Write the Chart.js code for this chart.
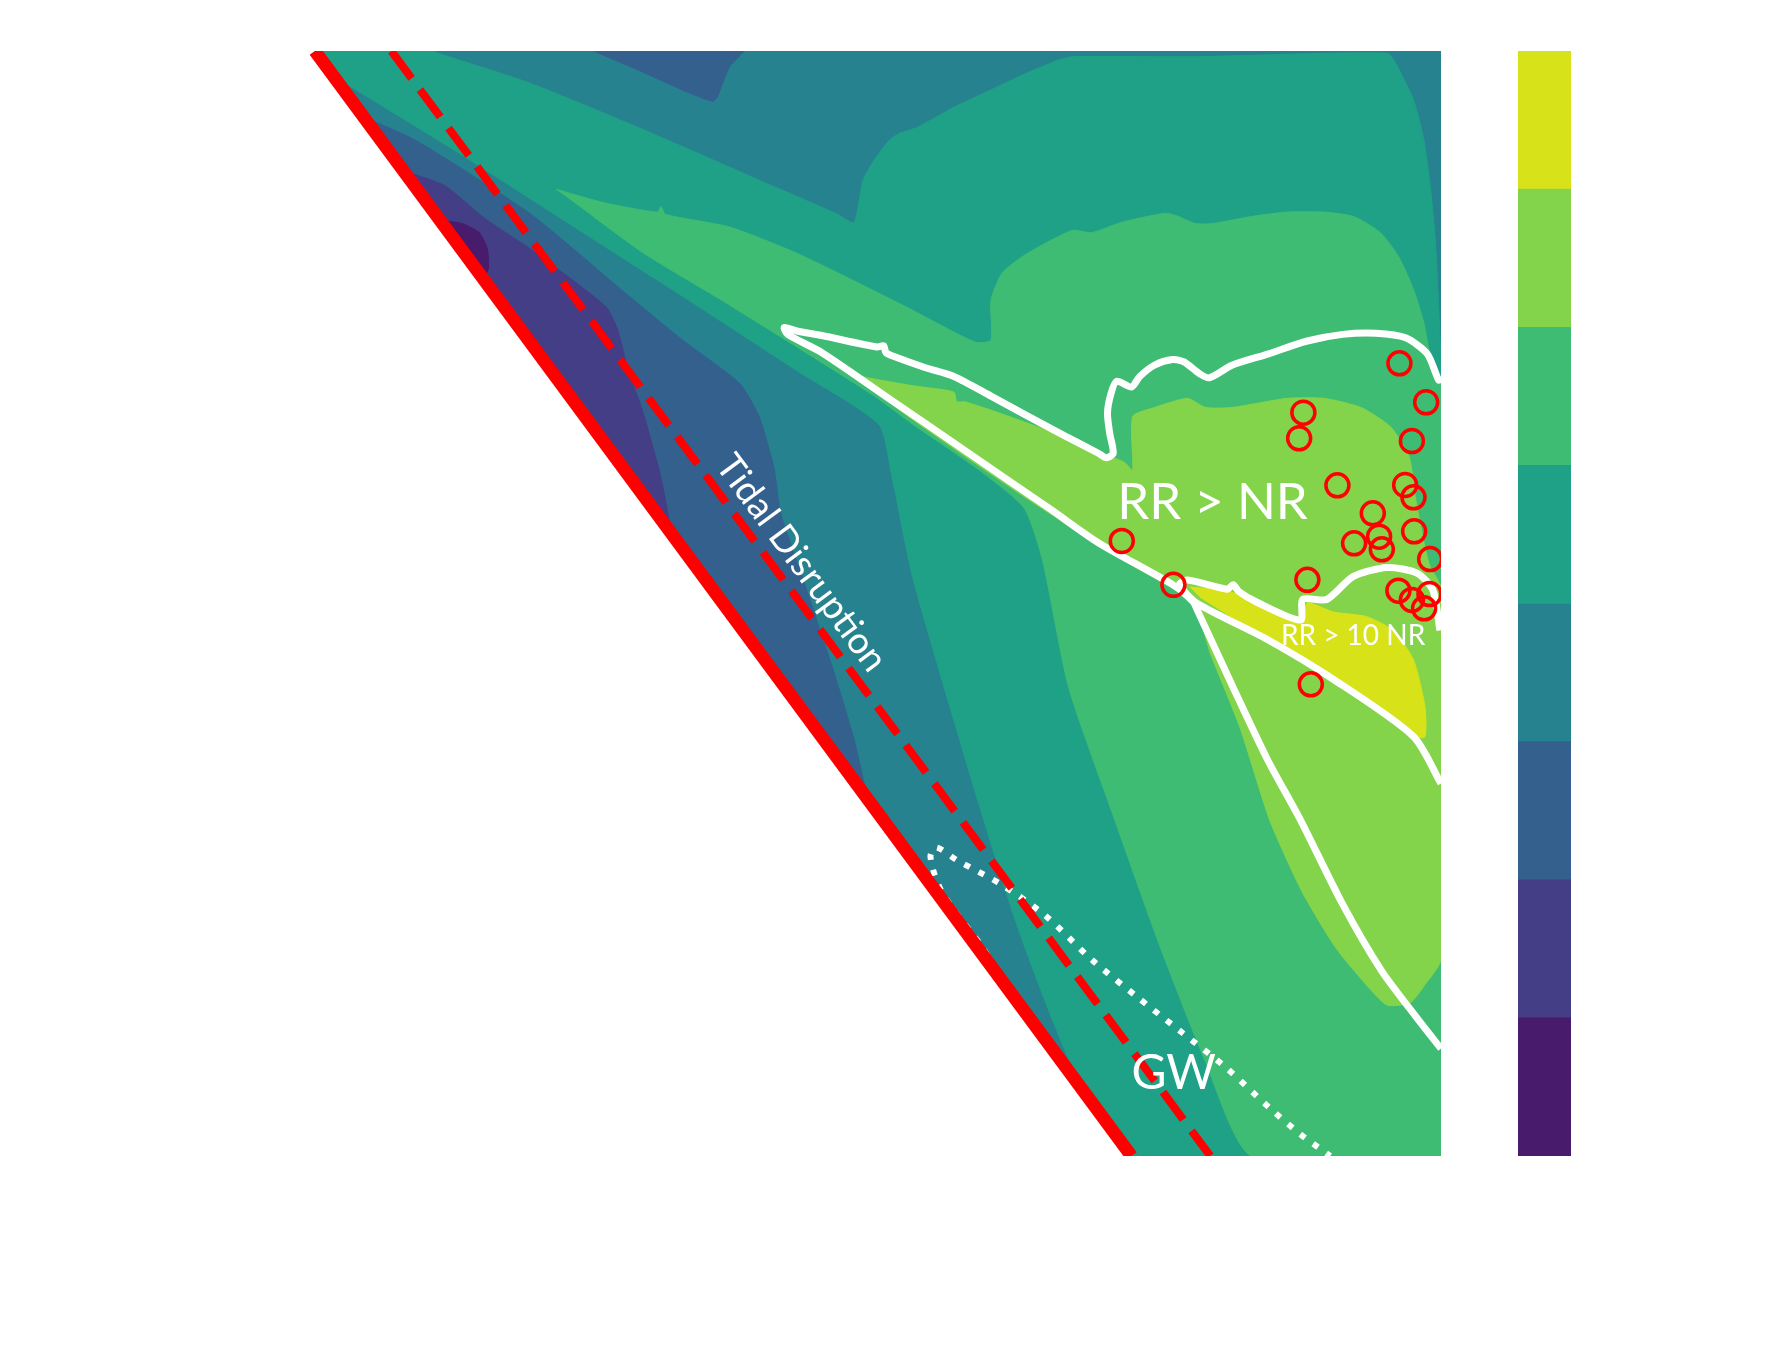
<!DOCTYPE html>
<html>
<head>
<meta charset="utf-8">
<script src="https://cdn.jsdelivr.net/npm/chart.js@4.4.1/dist/chart.umd.min.js"></script>
<style>
  html, body { margin: 0; padding: 0; background: #fff; }
  #wrap { position: relative; width: 1790px; height: 1356px; }
  #main { position: absolute; left: 0; top: 0; }
  #cbar { position: absolute; left: 1518px; top: 51px; }
</style>
</head>
<body>
<div id="wrap">
  <canvas id="main" width="1790" height="1356"></canvas>
  <canvas id="cbar" width="53" height="1105"></canvas>
</div>
<script>
// filled contour levels, lowest to highest (viridis, 8 bands)
const levelColors = ['#481b6d', '#433e85', '#34608d', '#26828e', '#1fa187', '#3fbc73', '#84d44b', '#d8e219'];
const levelBands = [1, 1, 1, 1, 1, 1, 1, 1];

// region outlines in axis units
const domain = [[0.6,96.7],[99.2,96.7],[99.2,0],[72.1,0]];           // level 3 everywhere
const level4 = [[0.6,96.7],[11.0,96.7],[11.4,96.5],[19.4,93.9],[29.4,89.8],[39.5,85.4],[46.2,82.5],[47.8,81.7],
  [48.6,85.4],[49.6,87.2],[50.9,88.9],[51.8,89.5],[53.3,90.0],[56.6,91.8],[59.8,93.3],[63.0,94.8],[65.7,95.9],
  [66.9,96.2],[77.7,96.2],[94.5,96.5],[95.4,95.3],[96.8,92.4],[97.7,88.9],[98.3,84.5],[98.7,80.2],[99.0,74.3],
  [99.2,69.2],[99.2,0],[72.1,0],[68.1,5.4],[66.5,8.7],[64.4,13.9],[61.9,20.7],[58.8,30.6],[55.7,41.0],[52.9,50.8],
  [51.1,59.6],[50.0,64.0],[43.0,68.6],[33.0,75.1],[23.0,81.5],[13.0,87.9],[2.4,94.4]];
const level2Top = [[25.0,96.7],[29.0,95.0],[33.0,93.2],[35.4,92.3],[35.8,92.6],[36.2,93.6],[36.9,95.3],[38.2,96.7]];
const level2Band = [[4.9,90.9],[9.4,88.9],[19.4,82.5],[27.8,75.5],[32.8,71.4],[37.8,67.6],[39.5,64.7],[40.8,60.2],
  [41.4,56.2],[43.5,50.0],[45.9,42.8],[47.8,36.5],[49.0,31.2]];
const level1Band = [[8.4,86.2],[12.0,84.9],[15.4,82.1],[20.0,79.0],[26.1,74.3],[27.1,72.3],[28.1,68.5],[29.2,65.5],
  [30.8,59.8],[31.6,55.6],[31.4,55.0]];
const level0Spot = [[11.5,81.9],[13.5,81.6],[15.0,80.8],[15.7,79.4],[15.8,77.7],[15.4,76.7]];
const level5 = [[21.7,84.6],[26.0,83.4],[30.6,82.6],[30.9,83.1],[31.3,82.4],[36.9,81.3],[42.8,79.0],[51.8,74.6],
  [56.0,72.4],[58.5,71.2],[59.8,71.4],[59.8,74.9],[60.8,77.3],[63.0,79.0],[66.9,81.0],[68.6,80.8],[71.2,81.7],
  [75.0,82.5],[76.0,82.3],[77.7,81.6],[79.2,81.6],[82.5,82.2],[85.7,82.6],[89.0,82.6],[91.6,82.2],[93.9,80.8],
  [95.5,78.7],[96.8,75.8],[97.7,72.9],[98.3,69.9],[99.0,68.5],[99.2,67.7],[99.2,0],[82.6,0],[78.6,8.2],
  [74.5,18.6],[70.5,29.8],[66.6,41.0],[64.3,52.2],[62.7,56.7],[58.8,60.0],[53.0,64.0],[49.6,66.5],[42.8,70.8],
  [36.2,74.9],[29.4,79.0],[25.0,82.2]];
const level6 = [[48.5,68.2],[50.1,67.9],[53.0,67.4],[56.0,67.0],[56.6,66.8],[56.8,66.0],[57.5,66.0],[60.0,65.2],
  [65.0,63.4],[69.0,61.7],[71.5,60.7],[72.2,60.0],[72.2,64.7],[74.1,65.5],[77.0,66.3],[78.6,65.5],[80.9,65.5],
  [85.7,66.3],[89.0,66.3],[92.2,65.5],[94.8,63.8],[96.4,61.2],[97.0,57.4],[97.6,54.2],[98.2,51.7],[99.2,49.7],
  [99.2,17.2],[97.8,15.0],[96.5,13.4],[94.5,13.2],[93.0,14.6],[90.0,18.2],[87.0,23.2],[84.2,29.4],[81.6,37.5],
  [79.0,44.0],[77.5,48.4],[73.0,51.2],[69.3,53.4],[63.0,57.5],[58.0,60.9],[53.0,64.4],[50.0,66.6]];
const level7 = [[77.2,49.8],[80.7,49.4],[86.9,46.9],[87.5,48.4],[89.8,47.6],[92.7,47.2],[95.0,46.0],[96.8,43.4],
  [97.8,39.3],[97.8,36.7],[96.8,36.7],[89.8,41.7],[84.0,45.2],[78.1,48.9]];

// RR > NR and RR > 10 NR contours
const rrNR = [[99.2,68.2],[99.0,67.9],[98.0,70.2],[96.1,71.6],[93.5,72.0],[90.6,71.9],[87.4,71.3],[84.1,70.2],
  [80.9,69.2],[78.9,68.1],[78.0,68.5],[76.7,69.5],[75.7,69.7],[74.1,69.2],[72.8,68.2],[72.1,67.3],[70.8,67.8],
  [70.3,66.7],[70.0,65.0],[70.2,63.2],[70.5,61.5],[69.9,61.1],[69.2,61.5],[66.3,63.0],[63.1,64.7],[59.8,66.5],
  [56.6,68.2],[54.0,69.0],[51.2,70.0],[50.6,70.3],[50.4,70.9],[49.8,70.8],[45.0,71.8],[42.8,72.2],[41.7,72.5],
  [42.0,71.9],[45.0,70.3],[51.0,66.2],[58.0,61.4],[65.0,56.6],[69.3,53.6],[75.7,50.0],[77.5,48.5],[77.8,47.9],
  [81.0,41.0],[84.0,34.7],[86.9,29.4],[90.5,22.2],[94.0,16.2],[97.0,12.2],[99.2,9.4]];
const rr10NR = [[99.1,46.0],[98.5,49.5],[97.1,51.0],[94.5,51.5],[91.5,50.7],[89.2,48.7],[87.1,48.7],[86.9,46.9],
  [83.0,48.5],[81.5,49.4],[81.0,50.0],[80.5,49.6],[77.0,50.4],[76.3,50.0],[77.8,48.4],[84.0,45.2],[89.8,41.7],
  [96.8,36.7],[99.2,32.6]];
const gwLimit = [[61.0,15.2],[58.8,18.6],[56.8,21.2],[55.3,23.5],[54.5,26.2],[55.0,27.0],[56.8,25.9],[60.8,23.7],
  [64.6,21.0],[68.6,17.2],[72.5,14.0],[76.4,10.9],[80.3,7.8],[84.2,4.2],[86.9,1.9],[89.5,0]];
const tidalEdge = [[0.6,96.7],[72.1,0]];
const tidalDisruption = [[7.3,96.7],[79.0,0]];

// observed systems
const systems = [[95.56,69.37],[97.90,65.96],[87.15,65.05],[96.65,62.57],[86.78,62.81],[90.13,58.69],[96.06,58.72],
  [96.79,57.64],[93.23,56.24],[96.85,54.67],[91.59,53.62],[93.78,54.20],[94.02,53.09],[98.25,52.24],[87.50,50.42],
  [95.47,49.47],[96.65,48.66],[98.19,49.18],[97.72,47.93],[71.25,53.82],[75.77,49.98],[87.80,41.28]];

const labelText = ['Tidal Disruption', 'RR > NR', 'RR > 10 NR', 'GW'];
const labelX = [43.2, 79.2, 91.5, 75.8];
const labelY = [51.9, 57.2, 45.5, 7.2];

const pts = a => a.map(p => ({x: p[0], y: p[1]}));

function region(arr, lvl, ord) {
  return {type: 'line', data: pts(arr), fill: 'shape', backgroundColor: levelColors[lvl],
    borderColor: levelColors[lvl], borderWidth: 1, pointRadius: 0, tension: 0.2, order: ord, clip: 0};
}
function curve(arr, color, width, dash, ord, tension) {
  return {type: 'line', data: pts(arr), fill: false, borderColor: color, borderWidth: width,
    borderDash: dash, pointRadius: 0, tension: tension, order: ord, clip: 0};
}

const labelStyle = [
  {font: '400 37px Lato', rot: 53.5},
  {font: '400 51px Lato', rot: 0},
  {font: '400 28px Lato', rot: 0},
  {font: '400 48px Lato', rot: 0}
];

const textPlugin = {
  id: 'plotText',
  afterDatasetsDraw(chart) {
    const {ctx, scales} = chart;
    labelText.forEach((t, i) => {
      ctx.save();
      ctx.translate(scales.x.getPixelForValue(labelX[i]), scales.y.getPixelForValue(labelY[i]));
      ctx.rotate(labelStyle[i].rot * Math.PI / 180);
      ctx.font = labelStyle[i].font;
      ctx.fillStyle = '#ffffff';
      ctx.textAlign = 'center';
      ctx.textBaseline = 'middle';
      ctx.fillText(t, 0, 0);
      ctx.restore();
    });
  }
};

new Chart(document.getElementById('main'), {
  type: 'scatter',
  data: {
    datasets: [
      {type: 'scatter', data: pts(systems), pointRadius: 11.5, pointBorderWidth: 3.5,
        pointBorderColor: '#ff0000', pointBackgroundColor: 'rgba(0,0,0,0)', order: 0},
      curve(tidalEdge, '#ff0000', 13, [], 1, 0),
      curve(tidalDisruption, '#ff0000', 8, [34, 14], 2, 0),
      curve(gwLimit, '#ffffff', 6, [6, 10], 3, 0.3),
      curve(rr10NR, '#ffffff', 7, [], 4, 0.25),
      curve(rrNR, '#ffffff', 7, [], 5, 0.25),
      region(level7, 7, 10),
      region(level6, 6, 11),
      region(level5, 5, 12),
      region(level0Spot, 0, 13),
      region(level1Band, 1, 14),
      region(level2Band, 2, 15),
      region(level2Top, 2, 16),
      region(level4, 4, 17),
      {...region(domain, 3, 18), tension: 0}
    ]
  },
  options: {
    responsive: false,
    animation: false,
    events: [],
    layout: {padding: {left: 308, right: 349, top: 51, bottom: 200}},
    scales: {
      x: {type: 'linear', min: 0, max: 99.2, display: false},
      y: {type: 'linear', min: 0, max: 96.7, display: false}
    },
    plugins: {legend: {display: false}, tooltip: {enabled: false}}
  },
  plugins: [textPlugin]
});

// colour bar
new Chart(document.getElementById('cbar'), {
  type: 'bar',
  data: {
    labels: [''],
    datasets: levelBands.map((v, i) => ({data: [v], backgroundColor: levelColors[i], borderWidth: 0,
      barPercentage: 1, categoryPercentage: 1}))
  },
  options: {
    responsive: false,
    animation: false,
    events: [],
    layout: {padding: 0},
    scales: {
      x: {stacked: true, display: false},
      y: {stacked: true, display: false, min: 0, max: 8}
    },
    plugins: {legend: {display: false}, tooltip: {enabled: false}}
  }
});
</script>
</body>
</html>
